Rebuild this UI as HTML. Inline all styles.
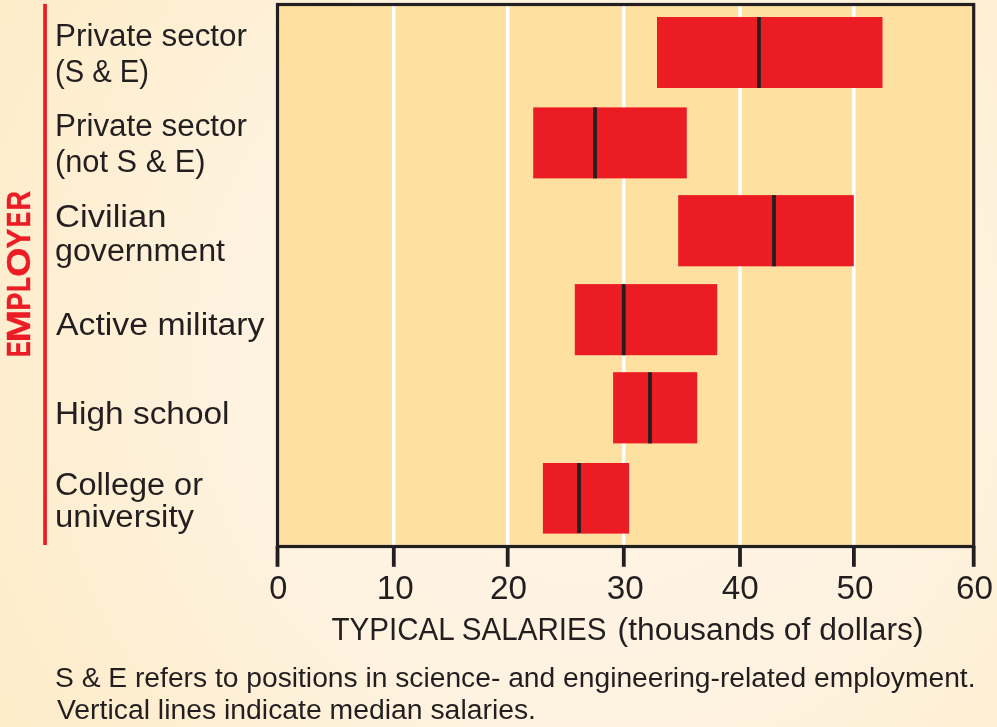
<!DOCTYPE html>
<html>
<head>
<meta charset="utf-8">
<style>
html,body{margin:0;padding:0;width:997px;height:727px;overflow:hidden;}
body{background:radial-gradient(circle at 600px 360px, #FEF4E4 0px, #FEF3E1 350px, #FEF0D6 500px, #FEEDCB 650px, #FEEBC7 760px);}
svg{position:absolute;left:0;top:0;will-change:transform;}
text{font-family:"Liberation Sans",sans-serif;fill:#231F20;}
.emp text{fill:#EC1C24;stroke:#EC1C24;stroke-width:0.4px;}
</style>
</head>
<body>
<svg width="997" height="727" viewBox="0 0 997 727">
  <!-- plot area -->
  <rect x="277.5" y="4.5" width="696.2" height="542" fill="#FEE1A1"/>
  <!-- gridlines -->
  <g stroke="#FFFFFF" stroke-width="3.4">
    <line x1="393.7" y1="6" x2="393.7" y2="545"/>
    <line x1="507.7" y1="6" x2="507.7" y2="545"/>
    <line x1="623.8" y1="6" x2="623.8" y2="545"/>
    <line x1="740" y1="6" x2="740" y2="545"/>
    <line x1="853.8" y1="6" x2="853.8" y2="545"/>
  </g>
  <!-- bars -->
  <g fill="#EC1C24">
    <rect x="657" y="17" width="225.5" height="71"/>
    <rect x="533.2" y="107.4" width="153.6" height="71"/>
    <rect x="678.2" y="195.1" width="175.6" height="71.2"/>
    <rect x="574.8" y="284.1" width="142.4" height="71.1"/>
    <rect x="613.1" y="372.2" width="84.1" height="71.2"/>
    <rect x="542.9" y="463" width="86.2" height="70.6"/>
  </g>
  <!-- medians -->
  <g stroke="#231F20" stroke-width="3.8">
    <line x1="758.9" y1="17" x2="758.9" y2="88"/>
    <line x1="595" y1="107.4" x2="595" y2="178.4"/>
    <line x1="774" y1="195.1" x2="774" y2="266.3"/>
    <line x1="623.7" y1="284.1" x2="623.7" y2="355.2"/>
    <line x1="650" y1="372.2" x2="650" y2="443.4"/>
    <line x1="579" y1="463" x2="579" y2="533"/>
  </g>
  <!-- frame -->
  <rect x="277.5" y="4.5" width="696.2" height="542" fill="none" stroke="#231F20" stroke-width="3.2"/>
  <!-- ticks -->
  <g stroke="#231F20" stroke-width="3.8">
    <line x1="277.5" y1="546" x2="277.5" y2="566.8"/>
    <line x1="393.8" y1="546" x2="393.8" y2="566.8"/>
    <line x1="507.7" y1="546" x2="507.7" y2="566.8"/>
    <line x1="623.8" y1="546" x2="623.8" y2="566.8"/>
    <line x1="740" y1="546" x2="740" y2="566.8"/>
    <line x1="853.9" y1="546" x2="853.9" y2="566.8"/>
    <line x1="973.7" y1="546" x2="973.7" y2="566.8"/>
  </g>
  <!-- red employer line -->
  <rect x="43.2" y="3.9" width="3.7" height="541.1" fill="#EC1C24"/>
  <g class="emp" font-weight="bold" font-size="33">
    <text transform="translate(30.2,356.96) rotate(-90) scale(0.7076,1)">E</text>
    <text transform="translate(30.2,342.52) rotate(-90) scale(1.1875,1)">M</text>
    <text transform="translate(30.2,310.58) rotate(-90) scale(0.8086,1)">P</text>
    <text transform="translate(30.2,291.96) rotate(-90) scale(0.7499,1)">L</text>
    <text transform="translate(30.2,276.84) rotate(-90) scale(1.1383,1)">O</text>
    <text transform="translate(30.2,248.41) rotate(-90) scale(0.9037,1)">Y</text>
    <text transform="translate(30.2,227.01) rotate(-90) scale(0.6860,1)">E</text>
    <text transform="translate(30.2,210.51) rotate(-90) scale(0.8211,1)">R</text>
  </g>
  <!-- labels -->
  <g font-size="31">
    <text x="55" y="46" textLength="192" lengthAdjust="spacingAndGlyphs">Private sector</text>
    <text x="55" y="81.7" textLength="94" lengthAdjust="spacingAndGlyphs">(S &amp; E)</text>
    <text x="55" y="135.8" textLength="192" lengthAdjust="spacingAndGlyphs">Private sector</text>
    <text x="55" y="171.7" textLength="150.5" lengthAdjust="spacingAndGlyphs">(not S &amp; E)</text>
    <text x="55" y="226.5" textLength="111.5" lengthAdjust="spacingAndGlyphs">Civilian</text>
    <text x="55" y="260.5" textLength="170" lengthAdjust="spacingAndGlyphs">government</text>
    <text x="56" y="335" textLength="208.5" lengthAdjust="spacingAndGlyphs">Active military</text>
    <text x="55" y="424" textLength="174.5" lengthAdjust="spacingAndGlyphs">High school</text>
    <text x="55" y="495" textLength="148" lengthAdjust="spacingAndGlyphs">College or</text>
    <text x="55" y="527" textLength="139" lengthAdjust="spacingAndGlyphs">university</text>
  </g>
  <!-- axis numbers -->
  <g font-size="32.5" text-anchor="middle">
    <text x="278.2" y="599.3">0</text>
    <text x="395.2" y="599.3" textLength="37" lengthAdjust="spacingAndGlyphs">10</text>
    <text x="508.6" y="599.3" textLength="37" lengthAdjust="spacingAndGlyphs">20</text>
    <text x="625.2" y="599.3" textLength="37" lengthAdjust="spacingAndGlyphs">30</text>
    <text x="740.3" y="599.3" textLength="37" lengthAdjust="spacingAndGlyphs">40</text>
    <text x="855" y="599.3" textLength="37" lengthAdjust="spacingAndGlyphs">50</text>
    <text x="974.5" y="599.3" textLength="37" lengthAdjust="spacingAndGlyphs">60</text>
  </g>
  <g font-size="31">
    <text x="331.5" y="640.3" textLength="275" lengthAdjust="spacingAndGlyphs">TYPICAL SALARIES</text>
    <text x="617.6" y="640.3" textLength="306" lengthAdjust="spacingAndGlyphs">(thousands of dollars)</text>
  </g>
  <g font-size="27">
    <text x="55" y="686.8" textLength="920.5" lengthAdjust="spacingAndGlyphs">S &amp; E refers to positions in science- and engineering-related employment.</text>
    <text x="57" y="719" textLength="479" lengthAdjust="spacingAndGlyphs">Vertical lines indicate median salaries.</text>
  </g>
</svg>
</body>
</html>
